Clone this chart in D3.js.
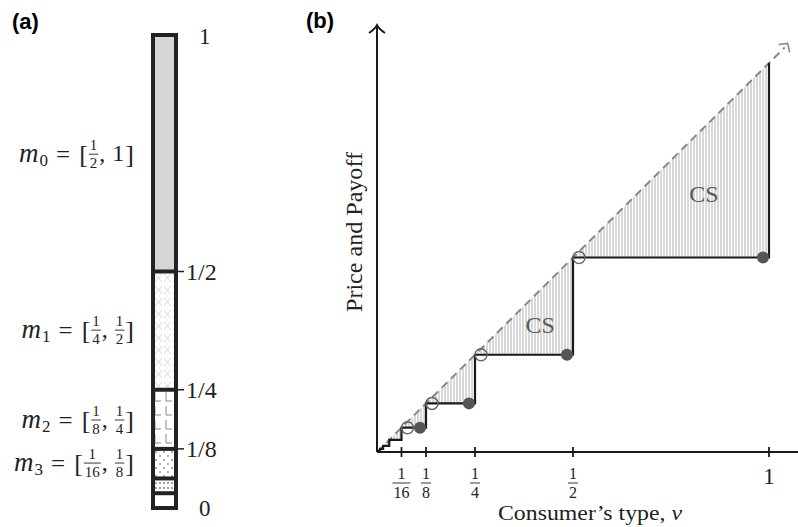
<!DOCTYPE html>
<html>
<head>
<meta charset="utf-8">
<script src="https://cdn.jsdelivr.net/npm/d3@7"></script>
<style>
  html, body { margin: 0; padding: 0; background: #fff; }
  svg text { font-family: "Liberation Serif", "DejaVu Serif", serif; }
</style>
</head>
<body>
<svg id="fig" width="798" height="527"></svg>
<script>
// ---- panel (a): message intervals ----
const barBounds = [1, 1/2, 1/4, 1/8, 1/16, 1/32, 0];
const barFills = ["url(#gray)", "url(#cross)", "url(#ell)", "url(#dots)", "url(#dense)", "#fff"];
const barTicks = [1/2, 1/4, 1/8];
const barTickLabels = ["1/2", "1/4", "1/8"];
const msgLabels = [
  { sub: "0", lo: ["1", "2"], hi: "1", mid: 0.748 },
  { sub: "1", lo: ["1", "4"], hi: ["1", "2"], mid: 0.376 },
  { sub: "2", lo: ["1", "8"], hi: ["1", "4"], mid: 0.186 },
  { sub: "3", lo: ["1", "16"], hi: ["1", "8"], mid: 0.095 }
];

// ---- panel (b): price schedule ----
const stepBreaks = [1/128, 1/64, 1/32, 1/16, 1/8, 1/4, 1/2, 1];
const filledDots = [1/8, 1/4, 1/2, 1];     // at (v, v/2)
const openDots = [1/16, 1/8, 1/4, 1/2];    // at (v, v)
const xTicks = [1/16, 1/8, 1/4, 1/2, 1];
const xTickLabels = [["1", "16"], ["1", "8"], ["1", "4"], ["1", "2"], "1"];
const csLabels = [{ v: 0.834, p: 0.643 }, { v: 0.416, p: 0.306 }];

const svg = d3.select("#fig");
const defs = svg.append("defs");

// patterns
defs.append("pattern").attr("id", "gray").attr("width", 4).attr("height", 4)
  .attr("patternUnits", "userSpaceOnUse")
  .append("rect").attr("width", 4).attr("height", 4).attr("fill", "#d5d6d8");

const cross = defs.append("pattern").attr("id", "cross").attr("width", 9).attr("height", 12)
  .attr("patternUnits", "userSpaceOnUse").attr("x", 154).attr("y", 272);
cross.append("rect").attr("width", 9).attr("height", 12).attr("fill", "#fff");
cross.append("path").attr("d", "M1,2 L8,10 M8,2 L1,10")
  .attr("stroke", "#ccc").attr("stroke-width", 0.8).attr("fill", "none");

const ell = defs.append("pattern").attr("id", "ell").attr("width", 11).attr("height", 14)
  .attr("patternUnits", "userSpaceOnUse").attr("x", 153).attr("y", 391);
ell.append("rect").attr("width", 11).attr("height", 14).attr("fill", "#fff");
ell.append("path").attr("d", "M2,1 L2,10 M2,10 L8,10")
  .attr("stroke", "#888").attr("stroke-width", 1).attr("fill", "none");

const dots = defs.append("pattern").attr("id", "dots").attr("width", 8).attr("height", 8)
  .attr("patternUnits", "userSpaceOnUse").attr("x", 154).attr("y", 450);
dots.append("rect").attr("width", 8).attr("height", 8).attr("fill", "#fff");
dots.append("circle").attr("cx", 2).attr("cy", 2).attr("r", 0.9).attr("fill", "#888");
dots.append("circle").attr("cx", 6).attr("cy", 6).attr("r", 0.9).attr("fill", "#888");

const dense = defs.append("pattern").attr("id", "dense").attr("width", 4).attr("height", 5)
  .attr("patternUnits", "userSpaceOnUse").attr("x", 154).attr("y", 480);
dense.append("rect").attr("width", 4).attr("height", 5).attr("fill", "#fff");
dense.append("circle").attr("cx", 2).attr("cy", 3).attr("r", 0.9).attr("fill", "#777");

const hatch = defs.append("pattern").attr("id", "hatch").attr("width", 3).attr("height", 10)
  .attr("patternUnits", "userSpaceOnUse");
hatch.append("line").attr("x1", 1).attr("x2", 1).attr("y1", 0).attr("y2", 10)
  .attr("stroke", "#a8a8a8").attr("stroke-width", 0.9);

// panel labels
svg.append("text").attr("x", 12).attr("y", 29).text("(a)")
  .style("font-family", "Liberation Sans, Arial, sans-serif").style("font-weight", "bold").style("font-size", "22px");
svg.append("text").attr("x", 306).attr("y", 28).text("(b)")
  .style("font-family", "Liberation Sans, Arial, sans-serif").style("font-weight", "bold").style("font-size", "22px");

// ---------- panel (a) ----------
const ya = d3.scaleLinear().domain([0, 1]).range([508, 35]);
const barX0 = 153, barX1 = 176;
const ga = svg.append("g");

ga.selectAll("rect.seg").data(d3.pairs(barBounds)).join("rect")
  .attr("x", barX0).attr("width", barX1 - barX0)
  .attr("y", d => ya(d[0])).attr("height", d => ya(d[1]) - ya(d[0]))
  .attr("fill", (d, i) => barFills[i]);

ga.selectAll("line.div").data(barBounds.slice(1, -1)).join("line")
  .attr("x1", barX0).attr("x2", barX1)
  .attr("y1", d => ya(d)).attr("y2", d => ya(d))
  .attr("stroke", "#222").attr("stroke-width", 4);

ga.append("rect").attr("x", barX0).attr("y", ya(1)).attr("width", barX1 - barX0)
  .attr("height", ya(0) - ya(1)).attr("fill", "none").attr("stroke", "#222").attr("stroke-width", 4);

ga.selectAll("line.tk").data(barTicks).join("line")
  .attr("x1", barX1 + 2).attr("x2", barX1 + 8)
  .attr("y1", d => ya(d)).attr("y2", d => ya(d))
  .attr("stroke", "#222").attr("stroke-width", 1.5);

ga.selectAll("text.tl").data(barTicks).join("text")
  .attr("x", barX1 + 10).attr("y", d => ya(d) + 8)
  .style("font-size", "24px").attr("fill", "#222")
  .text((d, i) => barTickLabels[i]);
ga.append("text").attr("x", 199).attr("y", ya(1) + 9).style("font-size", "23px").attr("fill", "#222").text("1");
ga.append("text").attr("x", 199).attr("y", ya(0) + 8).style("font-size", "23px").attr("fill", "#222").text("0");

// helper: stacked fraction, returns right edge
function frac(g, x, yc, parts, size) {
  const t1 = g.append("text").attr("y", yc - 0.25 * size).style("font-size", size + "px").attr("fill", "#222").text(parts[0]);
  const t2 = g.append("text").attr("y", yc + 0.92 * size).style("font-size", size + "px").attr("fill", "#222").text(parts[1]);
  const w = Math.max(t1.node().getComputedTextLength(), t2.node().getComputedTextLength()) + 2;
  t1.attr("x", x + w / 2).attr("text-anchor", "middle");
  t2.attr("x", x + w / 2).attr("text-anchor", "middle");
  g.append("line").attr("x1", x).attr("x2", x + w).attr("y1", yc).attr("y2", yc)
    .attr("stroke", "#222").attr("stroke-width", 0.9);
  return x + w;
}
function word(g, x, yc, s, size, italic) {
  const t = g.append("text").attr("x", x).attr("y", yc + size * 0.3)
    .style("font-size", size + "px").attr("fill", "#222").text(s);
  if (italic) t.style("font-style", "italic");
  return x + t.node().getComputedTextLength();
}
function piece(g, x, yc, p) {
  return Array.isArray(p) ? frac(g, x, yc, p, 15) : word(g, x, yc, p, 24, false);
}

msgLabels.forEach(m => {
  const g = ga.append("g");
  const yc = ya(m.mid);
  let x = 0;
  x = word(g, x, yc, "m", 27, true);
  const s = g.append("text").attr("x", x + 1).attr("y", yc + 12).style("font-size", "17px").attr("fill", "#222").text(m.sub);
  x += s.node().getComputedTextLength() + 9;
  x = word(g, x, yc + 1, "=", 25, false) + 9;
  x = word(g, x, yc + 1, "[", 26, false) + 1;
  x = piece(g, x, yc, m.lo) + 1;
  x = word(g, x, yc, ",", 24, false) + 7;
  x = piece(g, x, yc, m.hi) + 1;
  x = word(g, x, yc + 1, "]", 26, false);
  g.attr("transform", `translate(${134 - x},0)`);
});

// ---------- panel (b) ----------
const xb = d3.scaleLinear().domain([0, 1]).range([377, 769]);
const yb = d3.scaleLinear().domain([0, 1]).range([452, 63]);
const gb = svg.append("g");

// staircase points
const stair = [[0, 0]];
stepBreaks.forEach((b, i) => {
  const lo = i === 0 ? 0 : stepBreaks[i - 1];
  stair.push([lo, b / 2]);
  stair.push([b, b / 2]);
  stair.push([b, b]);
});
stair[1] = [0, 0];
const line = d3.line().x(d => xb(d[0])).y(d => yb(d[1]));

// hatched consumer surplus region
const region = [[0, 0], [1, 1]].concat(stair.slice().reverse());
gb.append("path").attr("d", line(region) + "Z").attr("fill", "url(#hatch)");

// dashed 45 degree line
gb.append("line")
  .attr("x1", xb(0)).attr("y1", yb(0)).attr("x2", xb(1.04)).attr("y2", yb(1.04))
  .attr("stroke", "#888").attr("stroke-width", 2).attr("stroke-dasharray", "8,5");
gb.append("path")
  .attr("d", `M${xb(1.04) - 6},${yb(1.04) - 3} L${xb(1.04) + 3},${yb(1.04) - 4} L${xb(1.04) + 5},${yb(1.04) + 5}`)
  .attr("fill", "none").attr("stroke", "#888").attr("stroke-width", 1.6);

// staircase
gb.append("path").attr("d", line(stair.slice(0, -1).concat([[1, 1]])))
  .attr("fill", "none").attr("stroke", "#1a1a1a").attr("stroke-width", 2.2);

// dots
gb.selectAll("circle.f").data(filledDots).join("circle")
  .attr("cx", d => xb(d) - 6).attr("cy", d => yb(d / 2)).attr("r", 6)
  .attr("fill", "#555");
gb.selectAll("circle.o").data(openDots).join("circle")
  .attr("cx", d => xb(d) + 6).attr("cy", d => yb(d)).attr("r", 6)
  .attr("fill", "none").attr("stroke", "#666").attr("stroke-width", 1.5);

// axes
gb.append("line").attr("x1", xb(0)).attr("x2", 798).attr("y1", yb(0)).attr("y2", yb(0))
  .attr("stroke", "#1a1a1a").attr("stroke-width", 2);
gb.append("line").attr("x1", xb(0)).attr("x2", xb(0)).attr("y1", yb(0)).attr("y2", 26)
  .attr("stroke", "#1a1a1a").attr("stroke-width", 2);
gb.append("path").attr("d", `M${xb(0) - 8},${33} Q${xb(0) - 2},${29} ${xb(0)},${25} Q${xb(0) + 2},${29} ${xb(0) + 8},${33}`)
  .attr("fill", "none").attr("stroke", "#1a1a1a").attr("stroke-width", 1.8);

gb.selectAll("line.xt").data(xTicks).join("line")
  .attr("x1", d => xb(d)).attr("x2", d => xb(d)).attr("y1", yb(0) - 5).attr("y2", yb(0) + 5)
  .attr("stroke", "#1a1a1a").attr("stroke-width", 1.8);

xTicks.forEach((t, i) => {
  const lab = xTickLabels[i];
  if (Array.isArray(lab)) {
    const g = gb.append("g");
    const x1 = frac(g, 0, 483, lab, 16);
    g.attr("transform", `translate(${xb(t) - x1 / 2},0)`);
  } else {
    gb.append("text").attr("x", xb(t)).attr("y", 484).attr("text-anchor", "middle")
      .style("font-size", "23px").attr("fill", "#222").text(lab);
  }
});

// CS labels
gb.selectAll("text.cs").data(csLabels).join("text")
  .attr("x", d => xb(d.v)).attr("y", d => yb(d.p)).attr("text-anchor", "middle")
  .style("font-size", "24px").attr("fill", "#5a5a5a").text("CS");

// axis titles
gb.append("text").attr("transform", `translate(362,232) rotate(-90)`).attr("text-anchor", "middle")
  .attr("textLength", 160).attr("lengthAdjust", "spacingAndGlyphs")
  .style("font-size", "23px").attr("fill", "#222").text("Price and Payoff");
const xt = gb.append("text").attr("x", 590).attr("y", 520).attr("text-anchor", "middle")
  .attr("textLength", 184).attr("lengthAdjust", "spacingAndGlyphs")
  .style("font-size", "21px").attr("fill", "#222");
xt.append("tspan").text("Consumer\u2019s type, ");
xt.append("tspan").style("font-style", "italic").text("v");
</script>
</body>
</html>
